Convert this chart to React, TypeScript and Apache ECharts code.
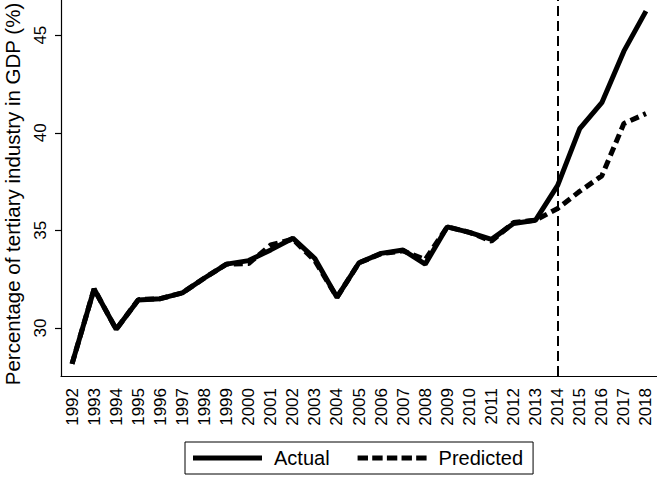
import React, { useEffect, useRef } from "react";
import * as echarts from "echarts";

const years = [
  "1992", "1993", "1994", "1995", "1996", "1997", "1998", "1999", "2000",
  "2001", "2002", "2003", "2004", "2005", "2006", "2007", "2008", "2009",
  "2010", "2011", "2012", "2013", "2014", "2015", "2016", "2017", "2018",
];
const actual = [
  28.16, 32.0, 29.93, 31.43, 31.5, 31.8, 32.56, 33.27, 33.45, 34.0, 34.6,
  33.56, 31.57, 33.34, 33.82, 33.99, 33.27, 35.18, 34.9, 34.54, 35.35, 35.52,
  37.3, 40.21, 41.54, 44.18, 46.23,
];
const predicted = [
  28.16, 32.0, 29.93, 31.45, 31.5, 31.8, 32.56, 33.27, 33.3, 34.25, 34.55,
  33.45, 31.57, 33.34, 33.8, 33.95, 33.5, 35.18, 34.9, 34.45, 35.4, 35.52,
  36.12, 37.0, 37.79, 40.47, 40.98,
];
const yTicks = [30, 35, 40, 45];
const cutoffYear = "2014";
const yTitle = "Percentage of tertiary industry in GDP (%)";
const font = "'Liberation Sans', Arial, Helvetica, sans-serif";

const solidIcon = "path://M0,0H69V5H0Z";
const dashedIcon =
  "path://M0,0H10.4V5H0Z M14.65,0H25.05V5H14.65Z M29.3,0H39.7V5H29.3Z M43.95,0H54.35V5H43.95Z M58.6,0H69V5H58.6Z";

export default function App() {
  const ref = useRef<HTMLDivElement>(null);
  useEffect(() => {
    if (!ref.current) return;
    const chart = echarts.init(ref.current, null, { renderer: "svg" });
    chart.setOption({
      animation: false,
      backgroundColor: "#ffffff",
      textStyle: { fontFamily: font, color: "#000" },
      grid: { left: 61, right: 0, top: 0, bottom: 101, outerBoundsMode: "none" },
      graphic: [
        {
          type: "text",
          x: 12,
          y: 194,
          rotation: Math.PI / 2,
          style: {
            text: yTitle,
            fontSize: 20.5,
            fontFamily: font,
            fill: "#000",
            align: "center",
            verticalAlign: "middle",
          },
        },
      ],
      legend: {
        left: 185,
        top: 442,
        orient: "horizontal",
        borderColor: "#000",
        borderWidth: 1,
        borderRadius: 0,
        padding: [6, 10, 6, 8],
        itemWidth: 69,
        itemHeight: 5,
        itemGap: 28,
        textStyle: { fontSize: 20, color: "#000", fontFamily: font, padding: [0, 0, 0, 7] },
        data: [
          { name: "Actual", icon: solidIcon },
          { name: "Predicted", icon: dashedIcon },
        ],
      },
      xAxis: {
        type: "category",
        data: years,
        boundaryGap: true,
        axisLine: { lineStyle: { color: "#000", width: 1.2 } },
        axisTick: { alignWithLabel: true, length: 7, lineStyle: { color: "#000", width: 1.2 } },
        axisLabel: { rotate: 90, interval: 0, fontSize: 17, color: "#000", margin: 12, fontFamily: font },
        splitLine: { show: false },
      },
      yAxis: {
        type: "value",
        min: 27.54,
        max: 46.8,
        axisLine: { show: true, lineStyle: { color: "#000", width: 1.2 } },
        axisTick: { show: true, length: 6, customValues: yTicks, lineStyle: { color: "#000", width: 1.2 } },
        axisLabel: { rotate: 90, fontSize: 17, color: "#000", margin: 12, customValues: yTicks, fontFamily: font },
        splitLine: { show: false },
      },
      series: [
        {
          name: "Actual",
          type: "line",
          data: actual,
          symbol: "none",
          lineStyle: { color: "#000", width: 5, type: "solid" },
          itemStyle: { color: "#000" },
          markLine: {
            silent: true,
            symbol: "none",
            label: { show: false },
            lineStyle: { color: "#000", width: 2, type: [10, 5] },
            data: [{ xAxis: cutoffYear }],
          },
        },
        {
          name: "Predicted",
          type: "line",
          data: predicted,
          symbol: "none",
          lineStyle: { color: "#000", width: 5, type: [9, 5] },
          itemStyle: { color: "#000" },
        },
      ],
    });
    return () => chart.dispose();
  }, []);
  return <div ref={ref} style={{ width: 657, height: 477, position: "absolute", left: 0, top: 0 }} />;
}
